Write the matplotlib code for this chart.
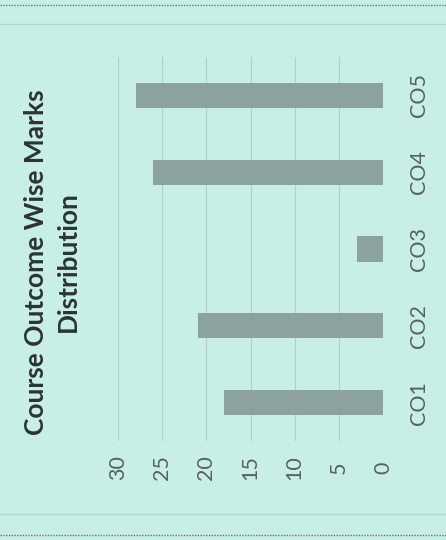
import matplotlib
matplotlib.use('Agg')
import matplotlib.pyplot as plt
from matplotlib.lines import Line2D

outcomes = ['CO1', 'CO2', 'CO3', 'CO4', 'CO5']
marks = [18, 21, 3, 26, 28]
value_ticks = [0, 5, 10, 15, 20, 25, 30]
title = 'Course Outcome Wise Marks\nDistribution'

bg = '#c8efe6'
bar_color = '#8ca2a0'
grid_color = '#b3cdc8'
text_color = '#58625f'

plt.rcParams['font.family'] = ['Lato', 'DejaVu Sans']

W, H = 446, 540
fig = plt.figure(figsize=(W / 100, H / 100), dpi=100, facecolor=bg)
ax = fig.add_axes([118 / W, 1 - 441 / H, (383 - 118) / W, (441 - 57) / H])
ax.set_facecolor(bg)

# the chart is scanned sideways: categories run bottom -> top,
# values grow to the left
ax.barh(range(len(outcomes)), marks, height=0.33, color=bar_color, zorder=3)
ax.set_xlim(30, 0)
ax.set_ylim(-0.5, len(outcomes) - 0.5)

ax.set_xticks(value_ticks)
ax.set_xticklabels([str(v) for v in value_ticks], rotation=90, fontsize=15.5,
                   color=text_color, va='center')
ax.set_yticks(range(len(outcomes)))
ax.set_yticklabels(outcomes, rotation=90, fontsize=15.5, color=text_color,
                   va='center', ha='center')
ax.yaxis.tick_right()
ax.tick_params(axis='x', length=0, pad=19)
ax.tick_params(axis='y', length=0, pad=26)

ax.grid(axis='x', color=grid_color, linewidth=0.8, zorder=0)
for s in ax.spines.values():
    s.set_visible(False)

fig.text(52 / W, 1 - 262 / H, title, rotation=90, ha='center', va='center',
         multialignment='center', fontsize=19, fontweight='bold',
         color='#2b3433', linespacing=1.35)

# page border (dotted) and faint chart frame from the scan
for y, ls, c in [(5, (0, (1, 1)), '#6a7472'), (535, (0, (1, 1)), '#6a7472'),
                 (24, '-', '#b8d4cf'), (514, '-', '#b8d4cf')]:
    fig.add_artist(Line2D([0, 1], [1 - y / H, 1 - y / H], transform=fig.transFigure,
                          linestyle=ls, color=c, linewidth=1))

fig.savefig('out.png', dpi=100, facecolor=bg)
